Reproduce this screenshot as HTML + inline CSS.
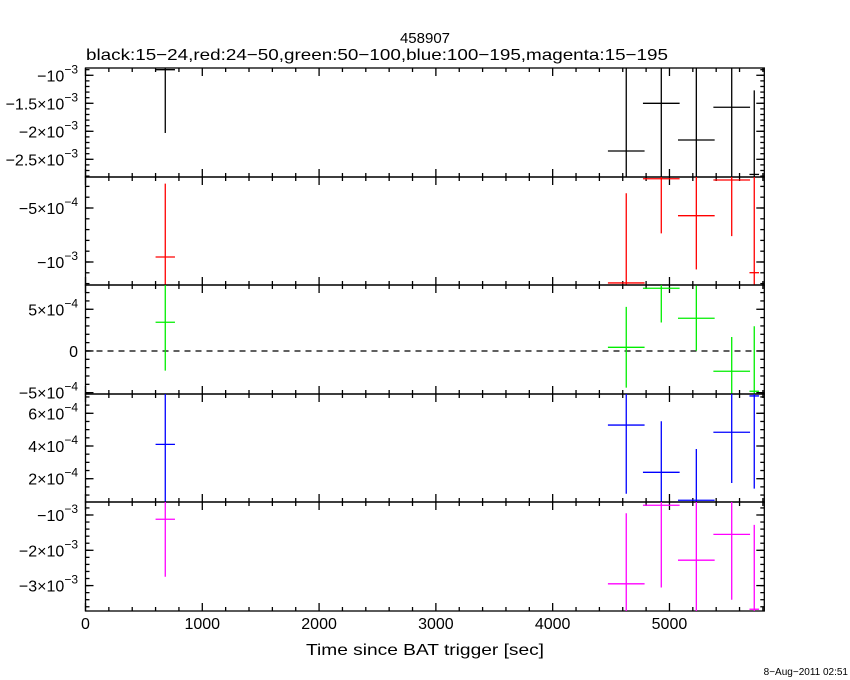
<!DOCTYPE html>
<html><head><meta charset="utf-8"><style>
body{margin:0;background:#fff;}
svg{display:block;font-family:"Liberation Sans",sans-serif;}
</style></head><body>
<svg id="chart" width="850" height="680" viewBox="0 0 850 680" xmlns="http://www.w3.org/2000/svg">
<rect width="850" height="680" fill="#fff"/>
<text x="425" y="43" font-size="15" text-anchor="middle">458907</text>
<text x="86" y="60" font-size="16" textLength="582" lengthAdjust="spacingAndGlyphs">black:15−24,red:24−50,green:50−100,blue:100−195,magenta:15−195</text>
<text x="425" y="655" font-size="16" text-anchor="middle" textLength="238" lengthAdjust="spacingAndGlyphs">Time since BAT trigger [sec]</text>
<text x="848" y="675" font-size="10" text-anchor="end">8−Aug−2011 02:51</text>
<g id="plots"></g>
</svg>
<script>
// x data (seconds) and half-widths
const times = [683, 4630, 4930, 5230, 5533, 5726];
const halfWidths = [83, 157, 157, 157, 157, 41];
const xTickValues = [0, 1000, 2000, 3000, 4000, 5000];
const xTickLabels = ["0", "1000", "2000", "3000", "4000", "5000"];

const blackValues = [-0.90e-3, -2.352e-3, -1.50e-3, -2.155e-3, -1.571e-3, -2.77e-3];
const blackErrors = [1.13e-3, 1.5e-3, 1.5e-3, 1.5e-3, 1.5e-3, 1.5e-3];
const redValues = [-9.54e-4, -1.194e-3, -2.29e-4, -5.71e-4, -2.41e-4, -1.099e-3];
const redErrors = [6.8e-4, 8.3e-4, 5.06e-4, 4.98e-4, 5.2e-4, 1.0e-3];
const greenValues = [3.44e-4, 0.44e-4, 7.52e-4, 3.92e-4, -2.43e-4, -4.83e-4];
const greenErrors = [5.8e-4, 4.84e-4, 4.1e-4, 3.9e-4, 4.1e-4, 7.8e-4];
const blueValues = [4.1e-4, 5.28e-4, 2.39e-4, 0.68e-4, 4.84e-4, 7.06e-4];
const blueErrors = [4.0e-4, 4.2e-4, 3.12e-4, 3.14e-4, 3.1e-4, 5.67e-4];
const magentaValues = [-1.12e-3, -2.95e-3, -0.725e-3, -2.28e-3, -1.55e-3, -3.67e-3];
const magentaErrors = [1.63e-3, 2.0e-3, 2.33e-3, 2.0e-3, 1.85e-3, 2.39e-3];

const blackTicks = [-1e-3, -1.5e-3, -2e-3, -2.5e-3];
const blackTickLabels = [["−10","−3"], ["−1.5×10","−3"], ["−2×10","−3"], ["−2.5×10","−3"]];
const redTicks = [-5e-4, -1e-3];
const redTickLabels = [["−5×10","−4"], ["−10","−3"]];
const greenTicks = [5e-4, 0, -5e-4];
const greenTickLabels = [["5×10","−4"], ["0",""], ["−5×10","−4"]];
const blueTicks = [6e-4, 4e-4, 2e-4];
const blueTickLabels = [["6×10","−4"], ["4×10","−4"], ["2×10","−4"]];
const magentaTicks = [-1e-3, -2e-3, -3e-3];
const magentaTickLabels = [["−10","−3"], ["−2×10","−3"], ["−3×10","−3"]];

const NS = "http://www.w3.org/2000/svg";
const X0 = 85.5, X1 = 764.3, XMIN = 0, XMAX = 5812;
function xs(v){ return X0 + (v - XMIN) / (XMAX - XMIN) * (X1 - X0); }

const panels = [
  {name:"black", color:"#000", top:68, bot:177, ymax:-0.87e-3, ymin:-2.816e-3, minor:1e-4, vals:blackValues, errs:blackErrors, ticks:blackTicks, labels:blackTickLabels},
  {name:"red", color:"#f00", top:177, bot:285, ymax:-2.13e-4, ymin:-1.213e-3, minor:1e-4, vals:redValues, errs:redErrors, ticks:redTicks, labels:redTickLabels},
  {name:"green", color:"#0e0", top:285, bot:394, ymax:7.91e-4, ymin:-5.16e-4, minor:1e-4, vals:greenValues, errs:greenErrors, ticks:greenTicks, labels:greenTickLabels, zero:true},
  {name:"blue", color:"#00f", top:394, bot:502, ymax:7.18e-4, ymin:0.575e-4, minor:0.5e-4, vals:blueValues, errs:blueErrors, ticks:blueTicks, labels:blueTickLabels},
  {name:"magenta", color:"#f0f", top:502, bot:611, ymax:-0.632e-3, ymin:-3.72e-3, minor:2e-4, vals:magentaValues, errs:magentaErrors, ticks:magentaTicks, labels:magentaTickLabels}
];

const root = document.getElementById('plots');
function mk(tag, attrs, parent){
  const e = document.createElementNS(NS, tag);
  for (const k in attrs) e.setAttribute(k, attrs[k]);
  (parent||root).appendChild(e);
  return e;
}
function line(x1,y1,x2,y2,stroke,parent,w){
  return mk('line',{x1:x1,y1:y1,x2:x2,y2:y2,stroke:stroke,'stroke-width':w||1.3},parent);
}

panels.forEach((p, pi) => {
  const g = mk('g', {});
  
  
  const ys = v => p.top + (p.ymax - v) / (p.ymax - p.ymin) * (p.bot - p.top);
  const clipId = 'clip' + pi;
  const cp = mk('clipPath', {id: clipId}, g);
  mk('rect', {x:X0, y:p.top, width:X1-X0, height:p.bot-p.top}, cp);
  const fr = mk('rect', {x:X0, y:p.top, width:X1-X0, height:p.bot-p.top, fill:'none', stroke:'#000', 'stroke-width':1.3}, g);
  
  
  for (let t = 0; t <= XMAX; t += 200) {
    const x = xs(t), L = (t % 1000 === 0) ? 8 : 4;
    line(x, p.top, x, p.top + L, '#000', g);
    line(x, p.bot, x, p.bot - L, '#000', g);
  }
  const start = Math.ceil(p.ymin / p.minor - 1e-6);
  for (let k = start; k * p.minor <= p.ymax + 1e-12; k++) {
    const y = ys(k * p.minor);
    line(X0, y, X0 + 4, y, '#000', g);
    line(X1, y, X1 - 4, y, '#000', g);
  }
  p.ticks.forEach((t, i) => {
    const y = ys(t);
    line(X0, y, X0 + 8, y, '#000', g);
    line(X1, y, X1 - 8, y, '#000', g);
    const tx = mk('text', {x: 78, y: y + 6, 'font-size': 16, 'text-anchor': 'end'}, g);
    
    
    const lb = p.labels[i];
    const s1 = document.createElementNS(NS, 'tspan'); s1.textContent = lb[0]; tx.appendChild(s1);
    if (lb[1]) {
      const s2 = document.createElementNS(NS, 'tspan');
      s2.setAttribute('dy', -8); s2.setAttribute('font-size', 12); s2.textContent = lb[1];
      tx.appendChild(s2);
    }
  });
  if (p.zero) {
    const z = line(X0, ys(0), X1, ys(0), '#000', g, 1.2);
    z.setAttribute('stroke-dasharray', '6,5');
    
    
  }
  const dg = mk('g', {'clip-path': 'url(#' + clipId + ')'}, g);
  p.vals.forEach((v, i) => {
    const pt = mk('g', {}, dg);
    
    
    const x = xs(times[i]), y = ys(v);
    line(xs(times[i] - halfWidths[i]), y, xs(times[i] + halfWidths[i]), y, p.color, pt);
    line(x, ys(v + p.errs[i]), x, ys(v - p.errs[i]), p.color, pt);
  });
});

xTickValues.forEach((t, i) => {
  const tx = mk('text', {x: xs(t), y: 629, 'font-size': 16, 'text-anchor': 'middle'});
  
  
  tx.textContent = xTickLabels[i];
});
</script>
</body></html>
